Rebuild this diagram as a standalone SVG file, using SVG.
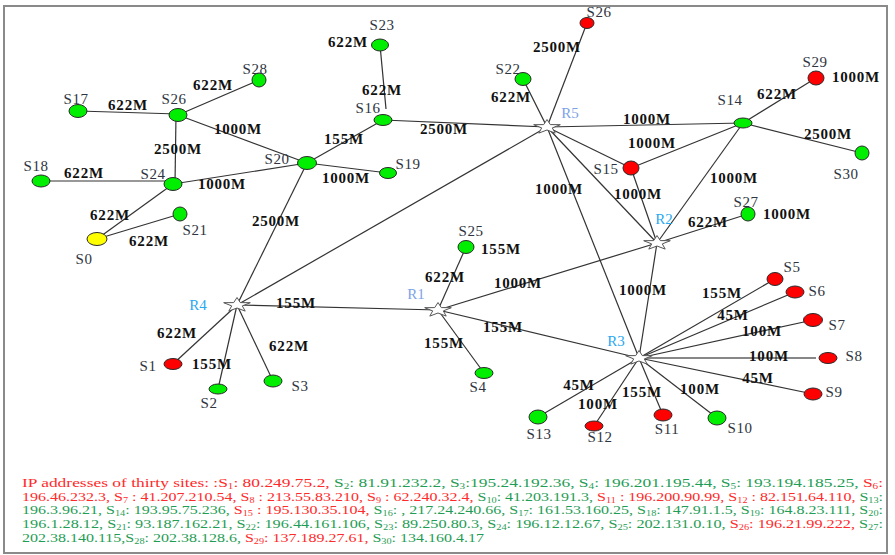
<svg xmlns="http://www.w3.org/2000/svg" width="895" height="555" viewBox="0 0 895 555">
<style>
.e{stroke:#333;stroke-width:1.2;fill:none}
.g{fill:#00ee00;stroke:#2a2a2a;stroke-width:1}
.r{fill:#ff0000;stroke:#2a2a2a;stroke-width:1}
.y{fill:#ffff00;stroke:#2a2a2a;stroke-width:1}
.st{fill:#fff;stroke:#555;stroke-width:1}
.lbl{font-family:"Liberation Serif",serif;font-size:15px;fill:#2e3440;text-anchor:middle;letter-spacing:0.5px}
.bw{font-family:"Liberation Serif",serif;font-size:15px;font-weight:bold;fill:#111;text-anchor:middle;letter-spacing:0.8px}
.rl{font-family:"Liberation Serif",serif;font-size:15px;text-anchor:middle}
.ra{fill:#7ea2e6}
.rb{fill:#29a8f0}
.ip{font-family:"Liberation Serif",serif;font-size:12.5px}
.rd{fill:#ff2a2a}
.gn{fill:#1f9d55}
.sub{font-size:8px}
</style>
<defs>
<polygon id="star" points="0,-7.5 3.3,-2.4 13.3,-2.3 5.3,0.9 8.2,6.1 0,3 -8.2,6.1 -5.3,0.9 -13.3,-2.3 -3.3,-2.4"/>
</defs>
<rect x="0" y="0" width="895" height="555" fill="#fff"/>
<rect x="4" y="6" width="883" height="547" fill="#fff" stroke="#8a8a8a" stroke-width="2"/>
<g id="connectors" class="e">
<line x1="78" y1="111" x2="178" y2="114"/>
<line x1="178" y1="115" x2="259" y2="80"/>
<line x1="178" y1="115" x2="307" y2="163"/>
<line x1="176" y1="115" x2="175" y2="184"/>
<line x1="41" y1="181" x2="173" y2="181"/>
<line x1="173" y1="184" x2="307" y2="163"/>
<line x1="173" y1="184" x2="97" y2="239"/>
<line x1="97" y1="239" x2="180" y2="214"/>
<line x1="307" y1="163" x2="237" y2="305"/>
<line x1="307" y1="163" x2="383" y2="120"/>
<line x1="307" y1="163" x2="388" y2="173"/>
<line x1="380" y1="45" x2="386" y2="109"/>
<line x1="383" y1="120" x2="547" y2="127"/>
<line x1="523" y1="79" x2="547" y2="127"/>
<line x1="587" y1="23" x2="547" y2="127"/>
<line x1="547" y1="127" x2="743" y2="123"/>
<line x1="547" y1="127" x2="631" y2="168"/>
<line x1="547" y1="127" x2="657" y2="243"/>
<line x1="547" y1="127" x2="639" y2="358"/>
<line x1="547" y1="127" x2="237" y2="305"/>
<line x1="631" y1="168" x2="743" y2="123"/>
<line x1="631" y1="168" x2="657" y2="243"/>
<line x1="743" y1="123" x2="657" y2="243"/>
<line x1="743" y1="123" x2="816" y2="78"/>
<line x1="743" y1="123" x2="862" y2="153"/>
<line x1="657" y1="243" x2="748" y2="214"/>
<line x1="657" y1="243" x2="438" y2="310"/>
<line x1="657" y1="243" x2="639" y2="358"/>
<line x1="639" y1="358" x2="775" y2="279"/>
<line x1="639" y1="358" x2="795" y2="292"/>
<line x1="639" y1="358" x2="813" y2="320"/>
<line x1="639" y1="358" x2="816" y2="358" stroke="#111"/>
<line x1="639" y1="358" x2="813" y2="394"/>
<line x1="639" y1="358" x2="717" y2="418"/>
<line x1="639" y1="358" x2="663" y2="415"/>
<line x1="639" y1="358" x2="594" y2="426"/>
<line x1="639" y1="358" x2="538" y2="417"/>
<line x1="639" y1="358" x2="438" y2="310"/>
<line x1="438" y1="310" x2="237" y2="305"/>
<line x1="438" y1="310" x2="466" y2="247"/>
<line x1="438" y1="310" x2="484" y2="373"/>
<line x1="237" y1="305" x2="173" y2="364"/>
<line x1="237" y1="305" x2="218" y2="389"/>
<line x1="237" y1="305" x2="273" y2="381"/>
</g>
<g id="edge-labels">
<text class="bw" x="128" y="110">622M</text>
<text class="bw" x="213" y="90">622M</text>
<text class="bw" x="238" y="134">1000M</text>
<text class="bw" x="178" y="154">2500M</text>
<text class="bw" x="84" y="178">622M</text>
<text class="bw" x="222" y="189">1000M</text>
<text class="bw" x="110" y="220">622M</text>
<text class="bw" x="149" y="246">622M</text>
<text class="bw" x="276" y="226">2500M</text>
<text class="bw" x="296" y="308">155M</text>
<text class="bw" x="177" y="338">622M</text>
<text class="bw" x="212" y="369">155M</text>
<text class="bw" x="289" y="351">622M</text>
<text class="bw" x="348" y="47">622M</text>
<text class="bw" x="382" y="95">622M</text>
<text class="bw" x="344" y="144">155M</text>
<text class="bw" x="346" y="183">1000M</text>
<text class="bw" x="444" y="134">2500M</text>
<text class="bw" x="557" y="52">2500M</text>
<text class="bw" x="511" y="102">622M</text>
<text class="bw" x="559" y="194">1000M</text>
<text class="bw" x="647" y="124">1000M</text>
<text class="bw" x="652" y="148">1000M</text>
<text class="bw" x="638" y="199">1000M</text>
<text class="bw" x="734" y="183">1000M</text>
<text class="bw" x="777" y="99">622M</text>
<text class="bw" x="856" y="82">1000M</text>
<text class="bw" x="828" y="139">2500M</text>
<text class="bw" x="708" y="227">622M</text>
<text class="bw" x="787" y="219">1000M</text>
<text class="bw" x="643" y="295">1000M</text>
<text class="bw" x="722" y="298">155M</text>
<text class="bw" x="733" y="320">45M</text>
<text class="bw" x="762" y="336">100M</text>
<text class="bw" x="769" y="361">100M</text>
<text class="bw" x="758" y="383">45M</text>
<text class="bw" x="700" y="394">100M</text>
<text class="bw" x="642" y="397">155M</text>
<text class="bw" x="598" y="409">100M</text>
<text class="bw" x="579" y="390">45M</text>
<text class="bw" x="518" y="288">1000M</text>
<text class="bw" x="445" y="282">622M</text>
<text class="bw" x="501" y="254">155M</text>
<text class="bw" x="503" y="332">155M</text>
<text class="bw" x="444" y="348">155M</text>
</g>
<g id="R1"><use href="#star" class="st" x="438" y="310"/><text class="rl ra" x="416" y="299">R1</text></g>
<g id="R2"><use href="#star" class="st" x="657" y="243"/><text class="rl rb" x="664" y="224">R2</text></g>
<g id="R3"><use href="#star" class="st" x="639" y="358"/><text class="rl rb" x="616" y="346">R3</text></g>
<g id="R4"><use href="#star" class="st" x="237" y="305"/><text class="rl rb" x="198" y="310">R4</text></g>
<g id="R5"><use href="#star" class="st" x="547" y="127"/><text class="rl ra" x="570" y="118">R5</text></g>
<g id="S0"><ellipse class="y" cx="97" cy="239" rx="10" ry="6.5"/><text class="lbl" x="84" y="264">S0</text></g>
<g id="S1"><ellipse class="r" cx="173" cy="364" rx="9" ry="5.5"/><text class="lbl" x="148" y="371">S1</text></g>
<g id="S2"><ellipse class="g" cx="218" cy="389" rx="9" ry="5"/><text class="lbl" x="209" y="408">S2</text></g>
<g id="S3"><ellipse class="g" cx="273" cy="381" rx="9" ry="6"/><text class="lbl" x="300" y="391">S3</text></g>
<g id="S4"><ellipse class="g" cx="484" cy="373" rx="9" ry="5.5"/><text class="lbl" x="478" y="392">S4</text></g>
<g id="S5"><ellipse class="r" cx="775" cy="279" rx="8" ry="6.5"/><text class="lbl" x="792" y="272">S5</text></g>
<g id="S6"><ellipse class="r" cx="795" cy="292" rx="9" ry="6"/><text class="lbl" x="817" y="296">S6</text></g>
<g id="S7"><ellipse class="r" cx="813" cy="320" rx="9.5" ry="6.5"/><text class="lbl" x="837" y="330">S7</text></g>
<g id="S8"><ellipse class="r" cx="828" cy="358" rx="9" ry="5.5"/><text class="lbl" x="854" y="361">S8</text></g>
<g id="S9"><ellipse class="r" cx="813" cy="394" rx="9" ry="6"/><text class="lbl" x="834" y="397">S9</text></g>
<g id="S10"><ellipse class="g" cx="717" cy="418" rx="9" ry="7"/><text class="lbl" x="740" y="433">S10</text></g>
<g id="S11"><ellipse class="r" cx="663" cy="415" rx="9" ry="6"/><text class="lbl" x="667" y="434">S11</text></g>
<g id="S12"><ellipse class="r" cx="594" cy="426" rx="9" ry="5"/><text class="lbl" x="600" y="442">S12</text></g>
<g id="S13"><ellipse class="g" cx="538" cy="417" rx="9" ry="7"/><text class="lbl" x="539" y="439">S13</text></g>
<g id="S14"><ellipse class="g" cx="743" cy="123" rx="9" ry="5"/><text class="lbl" x="730" y="105">S14</text></g>
<g id="S15"><ellipse class="r" cx="631" cy="168" rx="8" ry="7"/><text class="lbl" x="606" y="174">S15</text></g>
<g id="S16"><ellipse class="g" cx="383" cy="120" rx="9" ry="5.5"/><text class="lbl" x="368" y="113">S16</text></g>
<g id="S17"><ellipse class="g" cx="78" cy="111" rx="9" ry="6.5"/><text class="lbl" x="76" y="104">S17</text></g>
<g id="S18"><ellipse class="g" cx="41" cy="181" rx="9" ry="6"/><text class="lbl" x="36" y="171">S18</text></g>
<g id="S19"><ellipse class="g" cx="388" cy="173" rx="8.5" ry="5.5"/><text class="lbl" x="408" y="169">S19</text></g>
<g id="S20"><ellipse class="g" cx="307" cy="163" rx="9.5" ry="6.5"/><text class="lbl" x="277" y="164">S20</text></g>
<g id="S21"><ellipse class="g" cx="180" cy="214" rx="7" ry="7"/><text class="lbl" x="195" y="235">S21</text></g>
<g id="S22"><ellipse class="g" cx="523" cy="79" rx="8" ry="6.5"/><text class="lbl" x="508" y="74">S22</text></g>
<g id="S23"><ellipse class="g" cx="380" cy="45" rx="8.5" ry="6"/><text class="lbl" x="382" y="30">S23</text></g>
<g id="S24"><ellipse class="g" cx="173" cy="184" rx="9" ry="6.5"/><text class="lbl" x="153" y="179">S24</text></g>
<g id="S25"><ellipse class="g" cx="466" cy="247" rx="8" ry="6.5"/><text class="lbl" x="471" y="236">S25</text></g>
<g id="S26"><ellipse class="g" cx="178" cy="115" rx="9" ry="6.5"/><text class="lbl" x="174" y="104">S26</text></g>
<g id="S26b"><ellipse class="r" cx="587" cy="23" rx="7" ry="5.5"/><text class="lbl" x="599" y="17">S26</text></g>
<g id="S27"><ellipse class="g" cx="748" cy="214" rx="7" ry="7"/><text class="lbl" x="746" y="207">S27</text></g>
<g id="S28"><ellipse class="g" cx="259" cy="80" rx="7" ry="7"/><text class="lbl" x="255" y="74">S28</text></g>
<g id="S29"><ellipse class="r" cx="816" cy="78" rx="8" ry="7"/><text class="lbl" x="815" y="67">S29</text></g>
<g id="S30"><ellipse class="g" cx="862" cy="153" rx="7" ry="7"/><text class="lbl" x="846" y="179">S30</text></g>
<g id="ip-text" class="ip">
<text x="22" y="487" textLength="861" lengthAdjust="spacingAndGlyphs"><tspan class="rd">IP  addresses  of  thirty  sites:  :S</tspan><tspan class="rd sub" dy="2">1</tspan><tspan class="rd" dy="-2">: 80.249.75.2,</tspan><tspan class="gn">  S</tspan><tspan class="gn sub" dy="2">2</tspan><tspan class="gn" dy="-2">:  81.91.232.2,  S</tspan><tspan class="gn sub" dy="2">3</tspan><tspan class="gn" dy="-2">:195.24.192.36,  S</tspan><tspan class="gn sub" dy="2">4</tspan><tspan class="gn" dy="-2">:  196.201.195.44,  S</tspan><tspan class="gn sub" dy="2">5</tspan><tspan class="gn" dy="-2">:  193.194.185.25,</tspan><tspan class="rd">  S</tspan><tspan class="rd sub" dy="2">6</tspan><tspan class="rd" dy="-2">:</tspan></text>
<text x="22" y="500.5" textLength="861" lengthAdjust="spacingAndGlyphs"><tspan class="rd">196.46.232.3, S</tspan><tspan class="rd sub" dy="2">7</tspan><tspan class="rd" dy="-2"> : 41.207.210.54, S</tspan><tspan class="rd sub" dy="2">8</tspan><tspan class="rd" dy="-2"> : 213.55.83.210, S</tspan><tspan class="rd sub" dy="2">9</tspan><tspan class="rd" dy="-2"> : 62.240.32.4,</tspan><tspan class="gn"> S</tspan><tspan class="gn sub" dy="2">10</tspan><tspan class="gn" dy="-2">: 41.203.191.3,</tspan><tspan class="rd"> S</tspan><tspan class="rd sub" dy="2">11</tspan><tspan class="rd" dy="-2"> : 196.200.90.99, S</tspan><tspan class="rd sub" dy="2">12</tspan><tspan class="rd" dy="-2"> : 82.151.64.110,</tspan><tspan class="gn"> S</tspan><tspan class="gn sub" dy="2">13</tspan><tspan class="gn" dy="-2">:</tspan></text>
<text x="22" y="514" textLength="861" lengthAdjust="spacingAndGlyphs"><tspan class="gn">196.3.96.21, S</tspan><tspan class="gn sub" dy="2">14</tspan><tspan class="gn" dy="-2">: 193.95.75.236,</tspan><tspan class="rd"> S</tspan><tspan class="rd sub" dy="2">15</tspan><tspan class="rd" dy="-2"> : 195.130.35.104,</tspan><tspan class="gn"> S</tspan><tspan class="gn sub" dy="2">16</tspan><tspan class="gn" dy="-2">: , 217.24.240.66, S</tspan><tspan class="gn sub" dy="2">17</tspan><tspan class="gn" dy="-2">: 161.53.160.25, S</tspan><tspan class="gn sub" dy="2">18</tspan><tspan class="gn" dy="-2">: 147.91.1.5, S</tspan><tspan class="gn sub" dy="2">19</tspan><tspan class="gn" dy="-2">: 164.8.23.111, S</tspan><tspan class="gn sub" dy="2">20</tspan><tspan class="gn" dy="-2">:</tspan></text>
<text x="22" y="528" textLength="861" lengthAdjust="spacingAndGlyphs"><tspan class="gn">196.1.28.12, S</tspan><tspan class="gn sub" dy="2">21</tspan><tspan class="gn" dy="-2">: 93.187.162.21, S</tspan><tspan class="gn sub" dy="2">22</tspan><tspan class="gn" dy="-2">: 196.44.161.106, S</tspan><tspan class="gn sub" dy="2">23</tspan><tspan class="gn" dy="-2">: 89.250.80.3, S</tspan><tspan class="gn sub" dy="2">24</tspan><tspan class="gn" dy="-2">: 196.12.12.67, S</tspan><tspan class="gn sub" dy="2">25</tspan><tspan class="gn" dy="-2">: 202.131.0.10,</tspan><tspan class="rd"> S</tspan><tspan class="rd sub" dy="2">26</tspan><tspan class="rd" dy="-2">: 196.21.99.222,</tspan><tspan class="gn"> S</tspan><tspan class="gn sub" dy="2">27</tspan><tspan class="gn" dy="-2">:</tspan></text>
<text x="22" y="542" textLength="462" lengthAdjust="spacingAndGlyphs"><tspan class="gn">202.38.140.115,S</tspan><tspan class="gn sub" dy="2">28</tspan><tspan class="gn" dy="-2">: 202.38.128.6,</tspan><tspan class="rd"> S</tspan><tspan class="rd sub" dy="2">29</tspan><tspan class="rd" dy="-2">: 137.189.27.61,</tspan><tspan class="gn"> S</tspan><tspan class="gn sub" dy="2">30</tspan><tspan class="gn" dy="-2">: 134.160.4.17</tspan></text>
</g>
</svg>
